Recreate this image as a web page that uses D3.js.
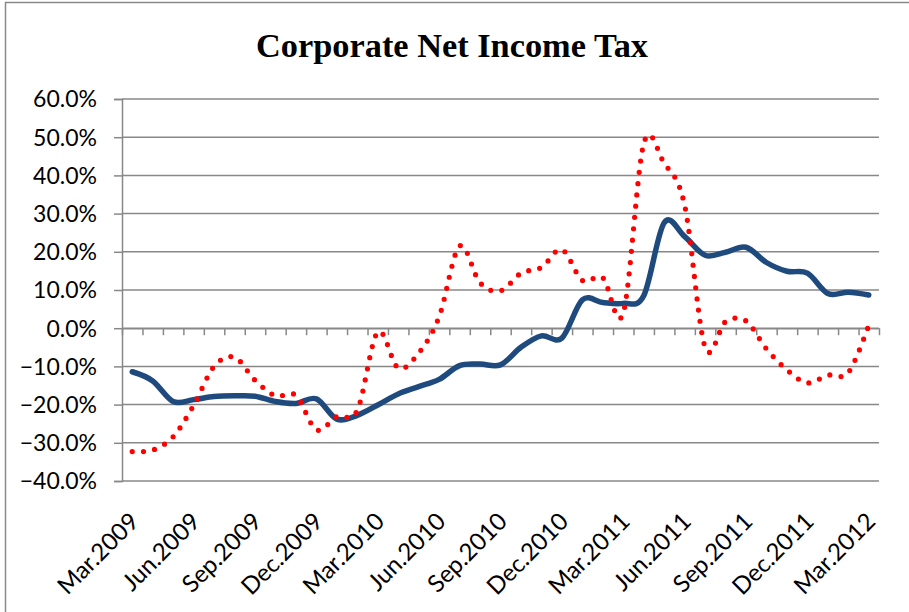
<!DOCTYPE html>
<html>
<head>
<meta charset="utf-8">
<script src="https://cdn.jsdelivr.net/npm/d3@7"></script>
<style>
  html, body { margin: 0; padding: 0; background: #fff; }
  svg { display: block; }
</style>
</head>
<body>
<svg id="chart" width="909" height="612"></svg>
<script>
// ---- data (values in %) ----
const categories = ["Mar.2009","Apr.2009","May.2009","Jun.2009","Jul.2009","Aug.2009","Sep.2009","Oct.2009","Nov.2009","Dec.2009",
  "Jan.2010","Feb.2010","Mar.2010","Apr.2010","May.2010","Jun.2010","Jul.2010","Aug.2010","Sep.2010","Oct.2010","Nov.2010","Dec.2010",
  "Jan.2011","Feb.2011","Mar.2011","Apr.2011","May.2011","Jun.2011","Jul.2011","Aug.2011","Sep.2011","Oct.2011","Nov.2011","Dec.2011",
  "Jan.2012","Feb.2012","Mar.2012"];
const labelledCategories = ["Mar.2009","Jun.2009","Sep.2009","Dec.2009","Mar.2010","Jun.2010","Sep.2010","Dec.2010",
  "Mar.2011","Jun.2011","Sep.2011","Dec.2011","Mar.2012"];
const rollingGrowth = [-11.4, -13.8, -19.2, -18.7, -17.9, -17.7, -17.8, -19.2, -19.7, -18.5, -23.8, -22.8, -20.1, -17.2, -15.3, -13.4,
  -9.8, -9.4, -9.6, -5.0, -2.0, -2.6, 7.4, 6.7, 6.5, 8.5, 27.6, 24.0, 19.1, 19.9, 21.2, 17.2, 14.9, 14.4, 9.1, 9.4, 8.7];
const monthlyGrowth = [-32.3, -31.9, -28.4, -20.2, -10.0, -7.6, -13.6, -17.7, -17.6, -26.6, -23.1, -21.5, -1.0, -10.4, -6.5, 3.0,
  21.5, 11.9, 9.8, 14.4, 15.9, 20.6, 12.5, 13.2, 4.0, 48.3, 43.2, 32.2, -5.0, 1.7, 1.9, -5.4, -10.9, -14.3, -12.3, -11.6, 0.8];
const yTicks = [-40, -30, -20, -10, 0, 10, 20, 30, 40, 50, 60];
const title = "Corporate Net Income Tax";

// ---- layout ----
const svg = d3.select("#chart");
const plotLeft = 122, plotRight = 879, plotTop = 99, plotBottom = 481;
const gridColor = "#888888";
const font = "Lato, 'Open Sans', sans-serif";

svg.append("rect").attr("x", 5.5).attr("y", 2.5).attr("width", 1000).attr("height", 1000)
  .attr("fill", "none").attr("stroke", "#8a8a8a").attr("stroke-width", 1.5);

svg.append("text").attr("x", 256).attr("y", 57)
  .attr("font-family", "'Liberation Serif', serif").attr("font-weight", "bold")
  .attr("font-size", 34).attr("textLength", 392).attr("lengthAdjust", "spacingAndGlyphs")
  .attr("fill", "#000").text(title);

const x = d3.scaleBand().domain(categories).range([plotLeft, plotRight]).padding(0);
const y = d3.scaleLinear().domain([-40, 60]).range([plotBottom, plotTop]);
const cx = c => x(c) + x.bandwidth() / 2;

// gridlines
svg.append("g").selectAll("line").data(yTicks).join("line")
  .attr("x1", plotLeft).attr("x2", plotRight)
  .attr("y1", d => y(d)).attr("y2", d => y(d))
  .attr("stroke", gridColor).attr("stroke-width", 1.5);

// y axis
const yAxis = svg.append("g").attr("transform", `translate(${plotLeft},0)`)
  .call(d3.axisLeft(y).tickValues(yTicks).tickSize(8).tickPadding(17)
    .tickFormat(d => d3.format(".1f")(d) + "%"));
yAxis.select(".domain").attr("stroke", gridColor).attr("stroke-width", 1.5);
yAxis.selectAll(".tick line").attr("stroke", gridColor).attr("stroke-width", 1.5);
yAxis.selectAll(".tick text").attr("font-family", font).attr("font-size", 23).attr("fill", "#000")
  .attr("dy", "0.34em");

// x axis at 0% with ticks at category boundaries
const xb = d3.scaleLinear().domain([0, categories.length]).range([plotLeft, plotRight]);
const xAxis = svg.append("g").attr("transform", `translate(0,${y(0)})`)
  .call(d3.axisBottom(xb).tickValues(d3.range(categories.length + 1)).tickSize(7).tickSizeOuter(0).tickFormat(""));
xAxis.select(".domain").attr("stroke", gridColor).attr("stroke-width", 1.5);
xAxis.selectAll(".tick line").attr("stroke", gridColor).attr("stroke-width", 1.5);

// rotated category labels
svg.append("g").selectAll("text").data(labelledCategories).join("text")
  .attr("transform", d => `translate(${cx(d) + 8},${523}) rotate(-45)`)
  .attr("text-anchor", "end")
  .attr("font-family", font).attr("font-size", 24).attr("fill", "#000")
  .text(d => d);

// lines
const line = d3.line().x((d, i) => cx(categories[i])).y(d => y(d)).curve(d3.curveCardinal.tension(0));

svg.append("path").datum(rollingGrowth).attr("d", line)
  .attr("fill", "none").attr("stroke", "#1F4A7E").attr("stroke-width", 5.5)
  .attr("stroke-linecap", "round").attr("stroke-linejoin", "round");

svg.append("path").datum(monthlyGrowth).attr("d", line)
  .attr("fill", "none").attr("stroke", "#FF0000").attr("stroke-width", 5.2)
  .attr("stroke-linecap", "round").attr("stroke-dasharray", "0 11.3");
</script>
</body>
</html>
